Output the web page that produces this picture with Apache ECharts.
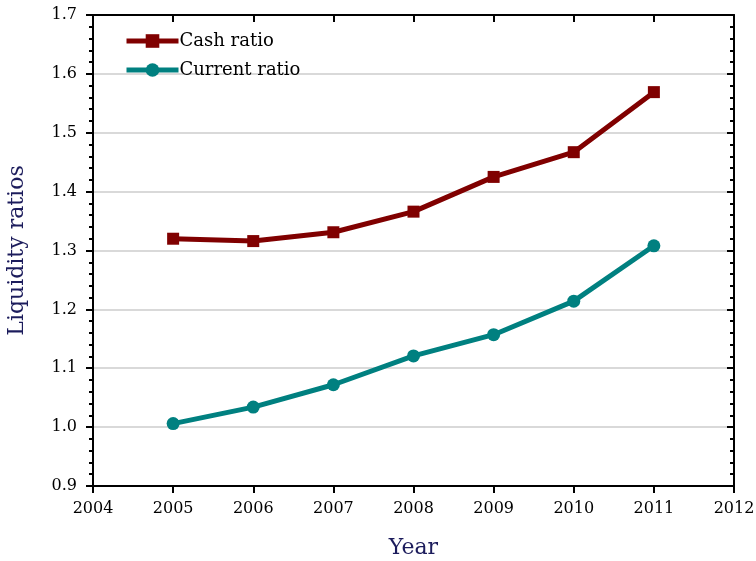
<!DOCTYPE html>
<html>
<head>
<meta charset="utf-8">
<script src="https://cdn.jsdelivr.net/npm/echarts@6/dist/echarts.min.js"></script>
<style>
  html, body { margin: 0; padding: 0; background: #fff; }
  #chart { width: 756px; height: 561px; }
</style>
</head>
<body>
<div id="chart"></div>
<script>
// Liquidity ratios by year
const years = [2005, 2006, 2007, 2008, 2009, 2010, 2011];
const cashRatio = [1.320, 1.316, 1.331, 1.366, 1.425, 1.467, 1.569];
const currentRatio = [1.006, 1.034, 1.072, 1.121, 1.157, 1.214, 1.308];
const seriesNames = ['Cash ratio', 'Current ratio'];

const serif = 'DejaVu Serif';
const navy = '#1c1c5c';
const axisLine = { show: true, lineStyle: { color: '#000', width: 2 } };

const chart = echarts.init(document.getElementById('chart'), null, { renderer: 'canvas' });

chart.setOption({
  animation: false,
  backgroundColor: '#fff',
  grid: { left: 93, right: 22, top: 15, bottom: 75, containLabel: false, outerBoundsMode: 'none' },
  legend: {
    left: 119, top: 27, orient: 'vertical', itemGap: 11,
    itemWidth: 52, itemHeight: 17,
    lineStyle: { width: 5 },
    textStyle: { fontFamily: serif, fontSize: 18, color: '#000', padding: [0, 0, 0, -4] },
    data: seriesNames
  },
  xAxis: [
    {
      type: 'value', position: 'bottom', min: 2004, max: 2012, interval: 1,
      name: 'Year', nameLocation: 'middle', nameGap: 51,
      nameTextStyle: { fontFamily: serif, fontSize: 22, color: navy },
      axisLine: axisLine,
      axisTick: { show: true, inside: false, length: 7, lineStyle: { color: '#000', width: 2 } },
      axisLabel: { fontFamily: serif, fontSize: 16, color: '#000', margin: 15, formatter: v => String(v) },
      splitLine: { show: false }
    },
    {
      type: 'value', position: 'top', min: 2004, max: 2012, interval: 1,
      axisLine: axisLine,
      axisTick: { show: true, inside: true, length: 7, lineStyle: { color: '#000', width: 2 } },
      axisLabel: { show: false },
      splitLine: { show: false }
    }
  ],
  yAxis: [
    {
      type: 'value', position: 'left', min: 0.9, max: 1.7, interval: 0.1,
      name: 'Liquidity ratios', nameLocation: 'middle', nameGap: 65, nameRotate: 90,
      nameTextStyle: { fontFamily: serif, fontSize: 22, color: navy },
      axisLine: axisLine,
      axisTick: { show: true, inside: false, length: 7, lineStyle: { color: '#000', width: 2 } },
      minorTick: { show: true, splitNumber: 5, length: 4, lineStyle: { color: '#000', width: 2 } },
      axisLabel: { fontFamily: serif, fontSize: 16, color: '#000', margin: 16, formatter: v => v.toFixed(1) },
      splitLine: { show: true, lineStyle: { color: '#cccccc', width: 1.5 } }
    },
    {
      type: 'value', position: 'right', min: 0.9, max: 1.7, interval: 0.1,
      axisLine: axisLine,
      axisTick: { show: true, inside: true, length: 7, lineStyle: { color: '#000', width: 2 } },
      minorTick: { show: true, splitNumber: 5, length: 4, lineStyle: { color: '#000', width: 2 } },
      axisLabel: { show: false },
      splitLine: { show: false }
    }
  ],
  series: [
    {
      name: seriesNames[0], type: 'line', xAxisIndex: 0, yAxisIndex: 0,
      data: years.map((y, i) => [y, cashRatio[i]]),
      symbol: 'rect', symbolSize: 12, showAllSymbol: true,
      lineStyle: { color: '#800000', width: 5 },
      itemStyle: { color: '#800000' }, z: 3
    },
    {
      name: seriesNames[1], type: 'line', xAxisIndex: 0, yAxisIndex: 0,
      data: years.map((y, i) => [y, currentRatio[i]]),
      symbol: 'circle', symbolSize: 13, showAllSymbol: true,
      lineStyle: { color: '#008080', width: 5 },
      itemStyle: { color: '#008080' }, z: 3
    }
  ]
});
</script>
</body>
</html>
